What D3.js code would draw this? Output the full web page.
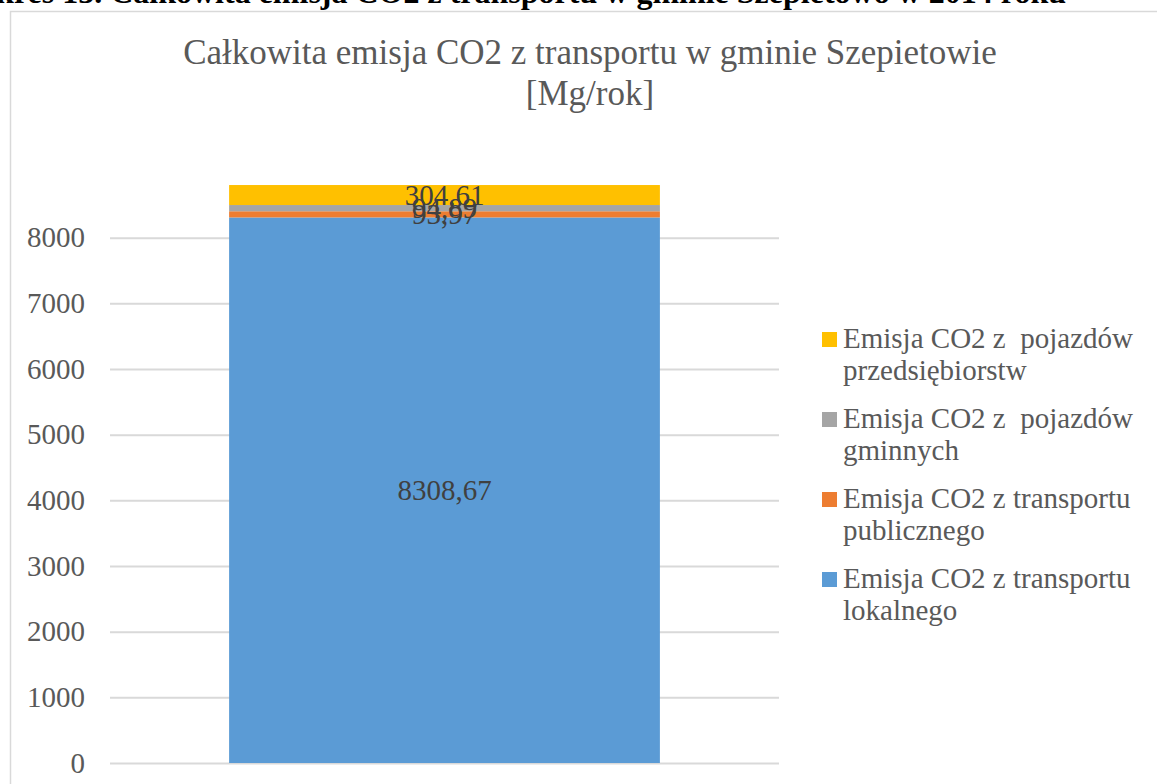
<!DOCTYPE html>
<html>
<head>
<meta charset="utf-8">
<script src="https://cdn.jsdelivr.net/npm/d3@7"></script>
<style>
  html, body { margin: 0; padding: 0; background: #fff; overflow: hidden; }
  svg { display: block; font-family: "Liberation Serif", "Times New Roman", serif; }
</style>
</head>
<body>
<svg id="chart" width="1157" height="784"></svg>
<script>
// ---- data ----
const heading = "Wykres 13. Całkowita emisja CO2 z transportu w gminie Szepietowo w 2014 roku";
const titleLines = ["Całkowita emisja CO2 z transportu w gminie Szepietowie", "[Mg/rok]"];
const categories = ["2014"];
// stack order bottom -> top
const seriesNames = [
  "Emisja CO2 z transportu lokalnego",
  "Emisja CO2 z transportu publicznego",
  "Emisja CO2 z  pojazdów gminnych",
  "Emisja CO2 z  pojazdów przedsiębiorstw"
];
const legendLines = [
  ["Emisja CO2 z transportu", "lokalnego"],
  ["Emisja CO2 z transportu", "publicznego"],
  ["Emisja CO2 z  pojazdów", "gminnych"],
  ["Emisja CO2 z  pojazdów", "przedsiębiorstw"]
];
const lokalny = [8308.67];
const publiczny = [93.97];
const gminny = [94.89];
const przedsiebiorstwa = [304.61];
const seriesColors = ["#5B9BD5", "#ED7D31", "#A5A5A5", "#FFC000"];
const tickValues = [0, 1000, 2000, 3000, 4000, 5000, 6000, 7000, 8000];

// ---- build ----
const seriesValues = [lokalny, publiczny, gminny, przedsiebiorstwa];
const rows = categories.map((c, i) => {
  const r = { cat: c };
  seriesNames.forEach((s, j) => r[s] = seriesValues[j][i]);
  return r;
});
const stacked = d3.stack().keys(seriesNames)(rows);

const svg = d3.select("#chart");
const locale = d3.formatLocale({ decimal: ",", thousands: "", grouping: [3], currency: ["", ""] });
const fmt = locale.format(".2f");

// heading (cut off at top of page)
svg.append("text")
  .attr("x", 1066).attr("y", 3)
  .attr("text-anchor", "end")
  .attr("font-weight", "bold")
  .attr("font-size", 32)
  .attr("fill", "#000")
  .text(heading);

// chart frame
svg.append("rect")
  .attr("x", 10.5).attr("y", 11.5)
  .attr("width", 1300).attr("height", 900)
  .attr("fill", "#fff")
  .attr("stroke", "#d9d9d9")
  .attr("stroke-width", 1.5);

// title
svg.append("text")
  .attr("x", 590).attr("y", 64)
  .attr("text-anchor", "middle")
  .attr("font-size", 35)
  .attr("fill", "#595959")
  .selectAll("tspan").data(titleLines).join("tspan")
  .attr("x", 590)
  .attr("dy", (d, i) => i === 0 ? 0 : 41)
  .text(d => d);

// scales
const x = d3.scaleBand().domain(categories).range([110, 779]).padding(0.2166);
const y = d3.scaleLinear().domain([0, 8000]).range([763, 237.7]);

// gridlines + y axis labels
const yAxis = d3.axisLeft(y).tickValues(tickValues).tickSize(-(779 - 110)).tickFormat(d3.format("d")).tickPadding(25);
const gAxis = svg.append("g").attr("transform", "translate(110,0)").call(yAxis);
gAxis.select(".domain").remove();
gAxis.selectAll(".tick line").attr("stroke", "#d9d9d9").attr("stroke-width", 2);
gAxis.selectAll(".tick text")
  .attr("font-family", "Liberation Serif, Times New Roman, serif")
  .attr("font-size", 29)
  .attr("fill", "#595959");

// bars
const gBars = svg.append("g");
stacked.forEach((layer, li) => {
  gBars.selectAll(null).data(layer).join("rect")
    .attr("x", d => x(d.data.cat))
    .attr("width", x.bandwidth())
    .attr("y", d => y(d[1]))
    .attr("height", d => y(d[0]) - y(d[1]))
    .attr("fill", seriesColors[li]);
});

// data labels
stacked.forEach((layer, li) => {
  svg.selectAll(null).data(layer).join("text")
    .attr("x", d => x(d.data.cat) + x.bandwidth() / 2)
    .attr("y", d => (y(d[0]) + y(d[1])) / 2)
    .attr("dy", "0.35em")
    .attr("text-anchor", "middle")
    .attr("font-size", 29)
    .attr("fill", "#404040")
    .text(d => fmt(d[1] - d[0]));
});

// legend (top item = top of stack)
const legendOrder = [3, 2, 1, 0];
const lg = svg.append("g");
legendOrder.forEach((si, k) => {
  const base = 348 + k * 80;
  lg.append("rect")
    .attr("x", 822).attr("y", base - 16)
    .attr("width", 15).attr("height", 15)
    .attr("fill", seriesColors[si]);
  lg.append("text")
    .attr("x", 843).attr("y", base)
    .attr("font-size", 29)
    .attr("fill", "#595959")
    .selectAll("tspan").data(legendLines[si]).join("tspan")
    .attr("x", 843)
    .attr("dy", (d, i) => i === 0 ? 0 : 32)
    .style("white-space", "pre")
    .text(d => d);
});
</script>
</body>
</html>
